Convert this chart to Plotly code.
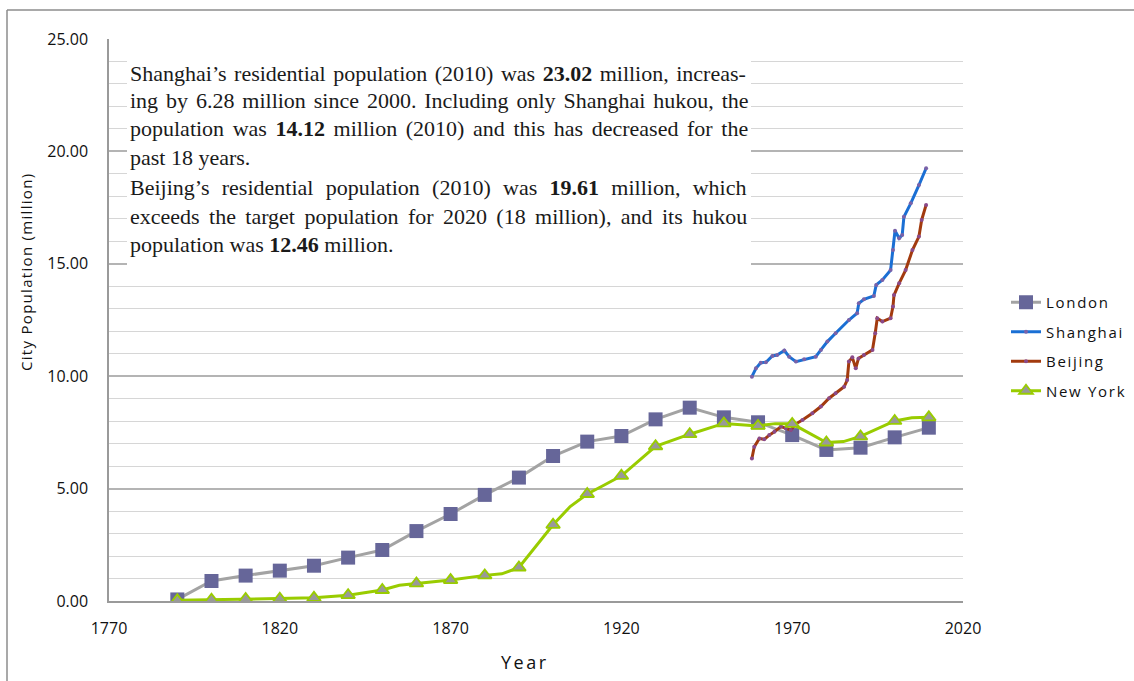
import plotly.graph_objects as go

# ---------------- data ----------------
london_years = [1790, 1800, 1810, 1820, 1830, 1840, 1850, 1860, 1870, 1880, 1890, 1900,
                1910, 1920, 1930, 1940, 1950, 1960, 1970, 1980, 1990, 2000, 2010]
london_pop = [0.07, 0.89, 1.13, 1.35, 1.57, 1.93, 2.27, 3.11, 3.87, 4.72, 5.49, 6.45,
              7.09, 7.34, 8.08, 8.60, 8.17, 7.95, 7.38, 6.72, 6.82, 7.28, 7.71]

shanghai_years = [1958.2, 1959.4, 1960.8, 1962.3, 1964.2, 1965.6, 1967.7, 1969.1, 1971.1, 1973.5,
                  1976.9, 1978.4, 1980.3, 1982.7, 1986.6, 1989.0, 1989.5, 1991.0, 1993.9, 1994.6,
                  1996.4, 1998.8, 1999.5, 2000.1, 2001.3, 2002.2, 2002.7, 2004.7, 2007.1, 2009.2]
shanghai_pop = [9.98, 10.35, 10.60, 10.62, 10.90, 10.94, 11.14, 10.87, 10.65, 10.75,
                10.87, 11.17, 11.54, 11.91, 12.50, 12.80, 13.24, 13.42, 13.57, 14.06,
                14.28, 14.72, 15.61, 16.47, 16.14, 16.28, 17.09, 17.69, 18.50, 19.25]

beijing_years = [1958.2, 1958.9, 1960.4, 1961.8, 1963.3, 1964.8, 1966.7, 1968.1, 1969.6, 1971.0,
                 1973.0, 1975.9, 1978.4, 1980.8, 1982.7, 1985.2, 1986.1, 1986.6, 1987.6, 1988.6,
                 1989.4, 1991.0, 1993.5, 1994.3, 1994.9, 1996.4, 1998.8, 1999.5, 1999.8, 2001.3,
                 2003.2, 2005.2, 2007.1, 2007.9, 2009.2]
beijing_pop = [6.34, 6.86, 7.23, 7.19, 7.38, 7.53, 7.76, 7.68, 7.61, 7.87,
               8.05, 8.35, 8.65, 9.02, 9.24, 9.53, 9.83, 10.65, 10.84, 10.35,
               10.79, 10.94, 11.17, 11.91, 12.58, 12.43, 12.58, 13.10, 13.61, 14.13,
               14.72, 15.61, 16.21, 16.95, 17.62]

newyork_years = [1790, 1800, 1810, 1820, 1830, 1840, 1850, 1855, 1860, 1870, 1880, 1885, 1890,
                 1900, 1905, 1910, 1915, 1920, 1930, 1935, 1940, 1950, 1960, 1965, 1970,
                 1980, 1985, 1990, 2000, 2005, 2010]
newyork_pop = [0.03, 0.06, 0.09, 0.10, 0.14, 0.26, 0.49, 0.70, 0.78, 0.93, 1.14, 1.21, 1.49,
               3.39, 4.20, 4.76, 5.16, 5.57, 6.88, 7.16, 7.42, 7.90, 7.79, 7.89, 7.88,
               7.05, 7.09, 7.32, 8.01, 8.15, 8.17]

series_names = ["London", "Shanghai", "Beijing", "New York"]

x_ticks = [1770, 1820, 1870, 1920, 1970, 2020]
y_ticks = [0, 5, 10, 15, 20, 25]

x_title = "Year"
y_title = "City Population (million)"

note_lines = [
    "Shanghai’s residential population (2010) was <b>23.02</b> million, increas-",
    "ing by 6.28 million since 2000. Including only Shanghai hukou, the",
    "population was <b>14.12</b> million (2010) and this has decreased for the",
    "past 18 years.",
    "Beijing’s residential population (2010) was <b>19.61</b> million, which",
    "exceeds the target population for 2020 (18 million), and its hukou",
    "population was <b>12.46</b> million.",
]

# ---------------- layout geometry (pixels) ----------------
W, H = 1134, 681
L, R, T, B = 109, 171, 39, 80
PW, PH = W - L - R, H - T - B


def px_x(p):
    return (p - L) / PW


def px_y(p):
    return (H - B - p) / PH


def spaced(text, px):
    return '<span style="letter-spacing:%spx">%s</span>' % (px, text)


SANS = "Open Sans, DejaVu Sans, sans-serif"
SERIF = "Liberation Serif, Times New Roman, serif"

fig = go.Figure()

# London
fig.add_trace(go.Scatter(
    x=london_years, y=london_pop, name=spaced(series_names[0], 1.7), mode="lines+markers",
    line=dict(color="#a3a3a3", width=3),
    marker=dict(symbol="square", size=14, color="#666699", line=dict(width=0)),
    legendgroup="g1",
))

# Shanghai
fig.add_trace(go.Scatter(
    x=shanghai_years, y=shanghai_pop, name=spaced(series_names[1], 1.7), mode="lines+markers",
    line=dict(color="#1a6fd4", width=3),
    marker=dict(symbol="circle", size=4, color="#7a62a8"),
    legendgroup="g2",
))

# Beijing
fig.add_trace(go.Scatter(
    x=beijing_years, y=beijing_pop, name=spaced(series_names[2], 1.7), mode="lines+markers",
    line=dict(color="#a23a0e", width=3),
    marker=dict(symbol="circle", size=4, color="#8a4a8a"),
    legendgroup="g3",
))

# New York: line through all points, triangles on decade points
ny_marked_x = [yr for yr in newyork_years if yr % 10 == 0]
ny_marked_y = [v for yr, v in zip(newyork_years, newyork_pop) if yr % 10 == 0]
fig.add_trace(go.Scatter(
    x=newyork_years, y=newyork_pop, name=series_names[3], mode="lines",
    line=dict(color="#99cc00", width=3), showlegend=False, legendgroup="g4",
))
fig.add_trace(go.Scatter(
    x=ny_marked_x, y=ny_marked_y, name=series_names[3], mode="markers",
    marker=dict(symbol="triangle-up", size=12, color="#999999",
                line=dict(color="#99cc00", width=1.8)),
    showlegend=False, legendgroup="g4",
))
# legend entry for New York
fig.add_trace(go.Scatter(
    x=[None], y=[None], name=spaced(series_names[3], 1.7), mode="lines+markers",
    line=dict(color="#99cc00", width=3),
    marker=dict(symbol="triangle-up", size=12, color="#999999",
                line=dict(color="#99cc00", width=1.8)),
    legendgroup="g4",
))

shapes = [
    # white note box
    dict(type="rect", xref="paper", yref="paper",
         x0=px_x(127), x1=px_x(751), y0=px_y(272), y1=px_y(50),
         fillcolor="white", line=dict(width=0), layer="above"),
    # outer chart border (left and top)
    dict(type="line", xref="paper", yref="paper",
         x0=px_x(7), x1=px_x(7), y0=px_y(10), y1=px_y(H + 5),
         line=dict(color="#8c8c8c", width=1.5)),
    dict(type="line", xref="paper", yref="paper",
         x0=px_x(7), x1=px_x(W + 5), y0=px_y(10), y1=px_y(10),
         line=dict(color="#8c8c8c", width=1.5)),
]

# justified look: extra word spacing per line (px)
word_gaps = [2.0, 2.4, 3.1, 0, 6.8, 3.9, 0]
line_centers = [73, 100, 128, 157, 187, 216, 244]
annotations = []
for txt, yc, wg in zip(note_lines, line_centers, word_gaps):
    annotations.append(dict(
        text='<span style="word-spacing:%spx">%s</span>' % (wg, txt),
        xref="paper", yref="paper", x=px_x(128), y=px_y(yc),
        xanchor="left", yanchor="middle", showarrow=False,
        font=dict(family=SERIF, size=22, color="#1a1a1a"),
    ))

annotations.append(dict(
    text=spaced(x_title, 2.5), xref="paper", yref="paper", x=px_x(525), y=px_y(662),
    xanchor="center", yanchor="middle", showarrow=False,
    font=dict(family=SANS, size=18, color="#111111"),
))
annotations.append(dict(
    text=spaced(y_title, 1.3), xref="paper", yref="paper", x=px_x(26), y=px_y(272),
    xanchor="center", yanchor="middle", showarrow=False, textangle=-90,
    font=dict(family=SANS, size=15, color="#111111"),
))

fig.update_layout(
    width=W, height=H,
    margin=dict(l=L, r=R, t=T, b=B, pad=0),
    paper_bgcolor="white", plot_bgcolor="white",
    shapes=shapes, annotations=annotations,
    showlegend=True,
    legend=dict(
        xref="container", yref="container",
        x=1006 / W, y=(H - 286) / H, xanchor="left", yanchor="top",
        font=dict(family=SANS, size=15, color="#111111"),
        traceorder="grouped", tracegroupgap=7,
        bgcolor="rgba(0,0,0,0)", borderwidth=0,
    ),
    xaxis=dict(
        range=[1770, 2020], tickvals=x_ticks, ticktext=[str(t) for t in x_ticks],
        showgrid=False, zeroline=False,
        showline=True, linecolor="#9a9a9a", linewidth=1.5,
        ticks="", ticklabelstandoff=12,
        tickfont=dict(family=SANS, size=16, color="#111111"),
    ),
    yaxis=dict(
        range=[0, 25], tickvals=y_ticks, ticktext=["%.2f" % t for t in y_ticks],
        showgrid=True, gridcolor="#b4b4b4", gridwidth=1.5,
        minor=dict(dtick=1, showgrid=True, gridcolor="#d6d6d6", gridwidth=1),
        zeroline=False,
        showline=True, linecolor="#9a9a9a", linewidth=1.5,
        ticks="", ticklabelstandoff=16,
        tickfont=dict(family=SANS, size=16, color="#111111"),
    ),
)

fig.write_html("out.html")
